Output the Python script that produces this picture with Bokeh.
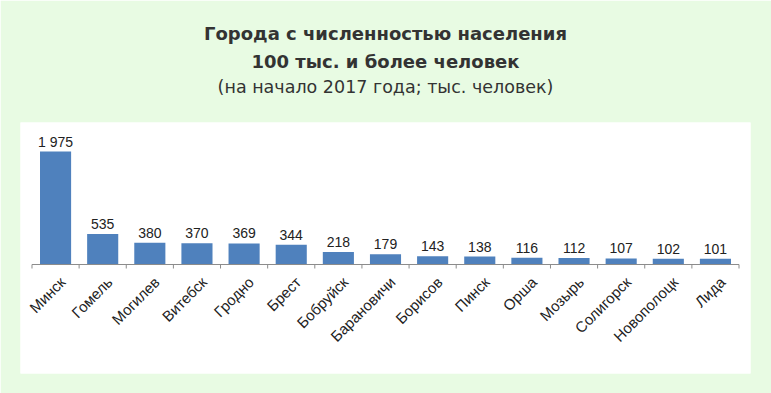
import math
from bokeh.plotting import figure
from bokeh.models import FactorRange, Range1d, ColumnDataSource, Title
from bokeh.core.properties import value
from bokeh.embed import file_html
from bokeh.resources import INLINE

cities = ["Минск", "Гомель", "Могилев", "Витебск", "Гродно", "Брест", "Бобруйск",
          "Барановичи", "Борисов", "Пинск", "Орша", "Мозырь", "Солигорск",
          "Новополоцк", "Лида"]
population = [1975, 535, 380, 370, 369, 344, 218, 179, 143, 138, 116, 112, 107, 102, 101]
title_line1 = "Города с численностью населения"
title_line2 = "100 тыс. и более человек"
title_line3 = "(на начало 2017 года; тыс. человек)"

BG = "#e8fbe3"
BAR = "#4f81bd"
W, H = 771, 393
FRAME_H = 251
YMIN, YMAX = -1905, 2482

labels = [f"{v:,}".replace(",", " ") for v in population]
src = ColumnDataSource(dict(city=cities, pop=population, label=labels))

p = figure(width=W, height=H,
           x_range=FactorRange(factors=cities, range_padding=0.0325),
           y_range=Range1d(YMIN, YMAX),
           output_backend="svg", toolbar_location=None, title=None,
           x_axis_location=None, y_axis_location=None,
           min_border_left=20, min_border_right=21, min_border_bottom=20, min_border_top=122,
           border_fill_color=BG, background_fill_color="white", outline_line_color=None)
p.grid.visible = False

# titles (added nearest-to-frame first); the first is a blank spacer
p.add_layout(Title(text=" ", text_font="DejaVu Sans", text_font_size="18px", standoff=2), "above")
for txt, style, size, so in [(title_line3, "normal", "17.5px", 2),
                             (title_line2, "bold", "18px", 4),
                             (title_line1, "bold", "18px", 6)]:
    p.add_layout(Title(text=txt, align="center", text_font="DejaVu Sans", text_font_size=size,
                       text_font_style=style, text_color="#333333", standoff=so), "above")

p.vbar(x="city", top="pop", width=0.66, source=src, fill_color=BAR, line_color=None)

# axis line and boundary ticks
n = len(cities)
bounds = list(range(n + 1))
tick_len = 4 * (YMAX - YMIN) / FRAME_H
p.segment(x0=[0], y0=[0], x1=[n], y1=[0], line_color="#8c8c8c", line_width=1)
p.segment(x0=bounds, y0=[0] * len(bounds), x1=bounds, y1=[-tick_len] * len(bounds),
          line_color="#8c8c8c", line_width=1)

p.text(x="city", y="pop", text="label", source=src, text_align="center",
       text_baseline="alphabetic", y_offset=-10, text_font=value("Liberation Sans"),
       text_font_size="14px", text_color="#222222")

p.text(x="city", y=0, text="city", source=src, angle=math.pi / 4, text_align="right",
       text_baseline="middle", x_offset=7, y_offset=15, text_font=value("Liberation Sans"),
       text_font_size="15px", text_color="#222222")

open("out.html", "w").write(file_html(p, INLINE))
